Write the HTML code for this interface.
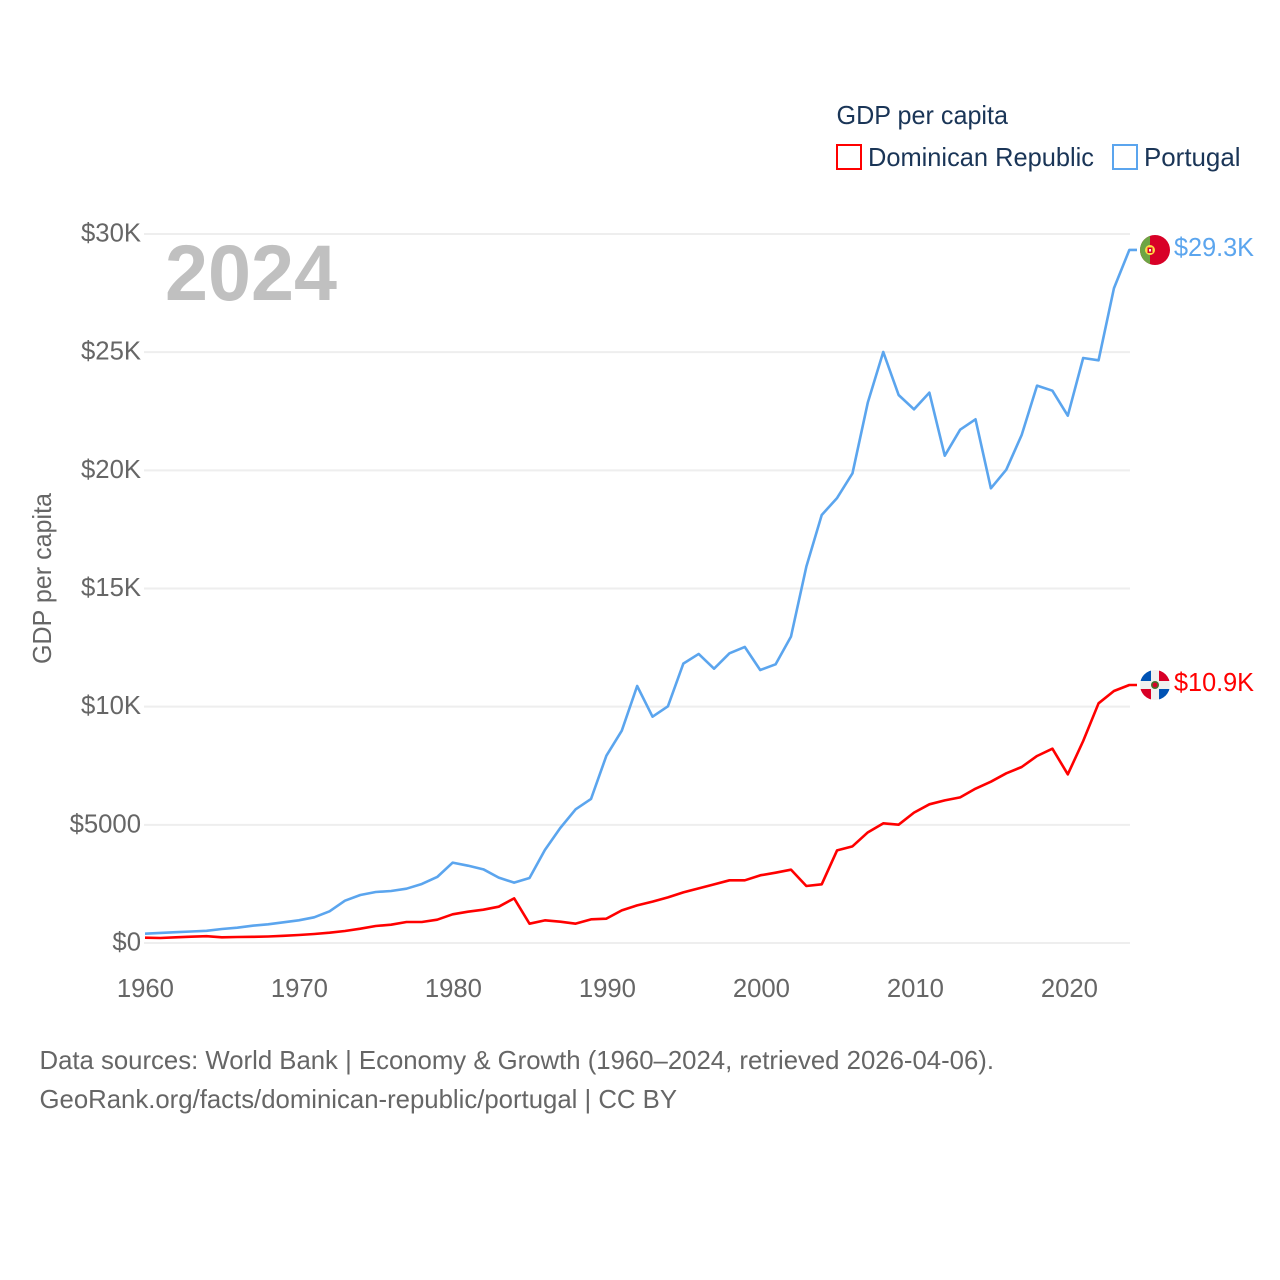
<!DOCTYPE html>
<html lang="en">
<head>
<meta charset="utf-8">
<title>GDP per capita: Dominican Republic and Portugal</title>
<style>
html,body{margin:0;padding:0;background:#fff;width:1280px;height:1280px;overflow:hidden}
svg{display:block;font-family:"Liberation Sans",sans-serif}
.tick{font-size:25.7px;fill:#666}
.legend{font-size:25.7px;fill:#1a3557}
.note{font-size:25.7px;fill:#666}
</style>
</head>
<body>
<svg id="chart" xmlns="http://www.w3.org/2000/svg" width="1280" height="1280" viewBox="0 0 1280 1280">
  <defs>
    <clipPath id="flag-clip-pt"><circle cx="1155" cy="250" r="15"/></clipPath>
    <clipPath id="flag-clip-do"><circle cx="1155" cy="685" r="15"/></clipPath>
  </defs>
  <g id="grid"></g>
  <g id="yticks"></g>
  <g id="xticks"></g>
  <text class="tick" transform="translate(51,578.5) rotate(-90)" text-anchor="middle" textLength="171" lengthAdjust="spacingAndGlyphs">GDP per capita</text>
  <text x="165" y="300" font-size="79" font-weight="700" fill="#c0c0c0" textLength="172" lengthAdjust="spacingAndGlyphs">2024</text>
  <g id="series"></g>

  <g clip-path="url(#flag-clip-pt)">
    <rect x="1140" y="235" width="30" height="30" fill="#d80027"/>
    <rect x="1140" y="235" width="10" height="30" fill="#6da544"/>
    <circle cx="1150" cy="250" r="5" fill="#ffda44"/>
    <rect x="1147.5" y="247.5" width="5" height="5.5" fill="#d80027"/>
    <rect x="1149" y="249" width="2" height="2.5" fill="#f0f0f0"/>
  </g>
  <g clip-path="url(#flag-clip-do)">
    <rect x="1140" y="670" width="30" height="30" fill="#f0f0f0"/>
    <rect x="1140" y="670" width="11" height="11" fill="#0052b4"/>
    <rect x="1159" y="670" width="11" height="11" fill="#d80027"/>
    <rect x="1140" y="689" width="11" height="11" fill="#d80027"/>
    <rect x="1159" y="689" width="11" height="11" fill="#0052b4"/>
    <circle cx="1155" cy="685" r="4" fill="#496e2d"/>
    <circle cx="1155" cy="685" r="2.4" fill="#d80027"/>
  </g>
  <text class="tick" style="fill:#5ba5ee" x="1174" y="256" textLength="80" lengthAdjust="spacingAndGlyphs">$29.3K</text>
  <text class="tick" style="fill:#ff0000" x="1174" y="691" textLength="80" lengthAdjust="spacingAndGlyphs">$10.9K</text>

  <g>
    <text class="legend" x="836.5" y="124" textLength="171.5" lengthAdjust="spacingAndGlyphs">GDP per capita</text>
    <rect x="837" y="145" width="24" height="24" fill="none" stroke="#ff0000" stroke-width="2"/>
    <text class="legend" x="868" y="166" textLength="226" lengthAdjust="spacingAndGlyphs">Dominican Republic</text>
    <rect x="1113" y="145" width="24" height="24" fill="none" stroke="#5ba5ee" stroke-width="2"/>
    <text class="legend" x="1144" y="166" textLength="96.5" lengthAdjust="spacingAndGlyphs">Portugal</text>
  </g>

  <text class="note" x="39.5" y="1069" textLength="954.5" lengthAdjust="spacingAndGlyphs">Data sources: World Bank | Economy &amp; Growth (1960–2024, retrieved 2026-04-06).</text>
  <text class="note" x="39.5" y="1108" textLength="637.5" lengthAdjust="spacingAndGlyphs">GeoRank.org/facts/dominican-republic/portugal | CC BY</text>
</svg>
<script>
const firstYear = 1960;
const portugalValues = [395,425,457,487,516,592,648,733,790,875,960,1086,1340,1791,2031,2158,2200,2298,2497,2793,3400,3272,3117,2765,2553,2750,3935,4866,5656,6094,7927,8985,10875,9577,10014,11820,12230,11608,12257,12526,11552,11792,12962,15924,18111,18830,19873,22878,25008,23188,22582,23287,20620,21721,22160,19240,20028,21496,23583,23370,22313,24754,24656,27703,29324];
const dominicanValues = [226,212,240,268,289,240,254,261,275,303,339,381,437,508,606,719,776,888,888,987,1213,1325,1410,1537,1890,818,959,903,818,1002,1030,1382,1594,1749,1932,2144,2313,2482,2652,2652,2863,2976,3103,2412,2482,3921,4090,4683,5063,5007,5515,5868,6036,6163,6530,6826,7180,7447,7913,8223,7137,8547,10142,10663,10917];
const yTickValues = [0,5000,10000,15000,20000,25000,30000];
const yTickLabels = ["$0","$5000","$10K","$15K","$20K","$25K","$30K"];
const xTickYears = [1960,1970,1980,1990,2000,2010,2020];

const NS = "http://www.w3.org/2000/svg";
const xScale = function (year) { return 145 + (year - 1960) * 15.38; };
const xTickScale = function (year) { return 145.4 + (year - 1960) * 15.4; };
const yScale = function (value) { return 943 - value * 709 / 30000; };

const gridGroup = document.getElementById("grid");
const yTickGroup = document.getElementById("yticks");
const xTickGroup = document.getElementById("xticks");
const seriesGroup = document.getElementById("series");

yTickValues.forEach(function (value, i) {
  const line = document.createElementNS(NS, "line");
  
  
  line.setAttribute("x1", 144);
  line.setAttribute("x2", 1130);
  line.setAttribute("y1", yScale(value));
  line.setAttribute("y2", yScale(value));
  line.setAttribute("stroke", "#eeeeee");
  line.setAttribute("stroke-width", "2");
  gridGroup.appendChild(line);

  const label = document.createElementNS(NS, "text");
  
  
  label.setAttribute("class", "tick");
  label.setAttribute("x", 141);
  label.setAttribute("y", yScale(value) + 7.5);
  label.setAttribute("text-anchor", "end");
  label.textContent = yTickLabels[i];
  yTickGroup.appendChild(label);
});

xTickYears.forEach(function (year) {
  const label = document.createElementNS(NS, "text");
  
  
  label.setAttribute("class", "tick");
  label.setAttribute("x", xTickScale(year));
  label.setAttribute("y", 997);
  label.setAttribute("text-anchor", "middle");
  label.textContent = year;
  xTickGroup.appendChild(label);
});

function linePath(values) {
  let d = "";
  values.forEach(function (value, i) {
    d += (i === 0 ? "M" : "L") + xScale(firstYear + i).toFixed(2) + " " + yScale(value).toFixed(2);
  });
  d += "L1137 " + yScale(values[values.length - 1]).toFixed(2);
  return d;
}

const portugalLine = document.createElementNS(NS, "path");


portugalLine.setAttribute("d", linePath(portugalValues));
portugalLine.setAttribute("fill", "none");
portugalLine.setAttribute("stroke", "#5ba5ee");
portugalLine.setAttribute("stroke-width", "2.6");
portugalLine.setAttribute("stroke-linejoin", "round");
seriesGroup.appendChild(portugalLine);

const dominicanLine = document.createElementNS(NS, "path");


dominicanLine.setAttribute("d", linePath(dominicanValues));
dominicanLine.setAttribute("fill", "none");
dominicanLine.setAttribute("stroke", "#ff0000");
dominicanLine.setAttribute("stroke-width", "2.6");
dominicanLine.setAttribute("stroke-linejoin", "round");
seriesGroup.appendChild(dominicanLine);
</script>
</body>
</html>
